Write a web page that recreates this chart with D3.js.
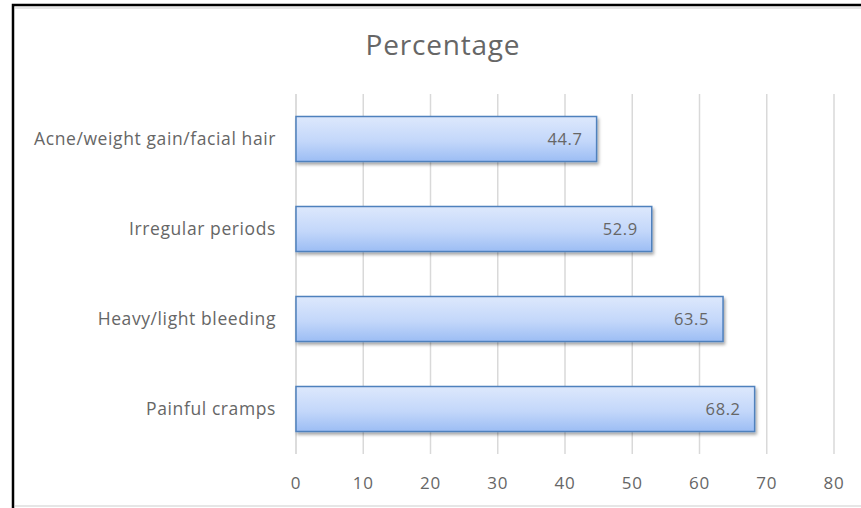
<!DOCTYPE html>
<html>
<head>
<meta charset="utf-8">
<script src="https://cdn.jsdelivr.net/npm/d3@7"></script>
<style>
  html, body { margin: 0; padding: 0; background: #fff; }
  svg { display: block; }
  text { font-family: "Open Sans", "Liberation Sans", sans-serif; fill: #666666; }
</style>
</head>
<body>
<svg id="chart" width="861" height="508"></svg>
<script>
const categories = ["Acne/weight gain/facial hair", "Irregular periods", "Heavy/light bleeding", "Painful cramps"];
const values = [44.7, 52.9, 63.5, 68.2];
const tickValues = [0, 10, 20, 30, 40, 50, 60, 70, 80];
const chartTitle = "Percentage";

const svg = d3.select("#chart");
const W = 861, H = 508;

// outer frame
svg.append("rect").attr("x", 13).attr("y", 5).attr("width", W + 10).attr("height", H + 10)
  .attr("fill", "#fff").attr("stroke", "#000").attr("stroke-width", 2.5);
svg.append("line").attr("x1", 15).attr("x2", W).attr("y1", 8).attr("y2", 8)
  .attr("stroke", "#e6e6e6").attr("stroke-width", 2);
svg.append("line").attr("x1", 15).attr("x2", W).attr("y1", 506).attr("y2", 506)
  .attr("stroke", "#e6e6e6").attr("stroke-width", 2);

const plot = { left: 296, right: 834, top: 94, bottom: 454 };

const x = d3.scaleLinear().domain([0, 80]).range([plot.left, plot.right]);
const y = d3.scaleBand().domain(categories).range([plot.top, plot.bottom]).paddingInner(0.5).paddingOuter(0.25);

const defs = svg.append("defs");
const grad = defs.append("linearGradient").attr("id", "barFill")
  .attr("x1", 0).attr("y1", 0).attr("x2", 0).attr("y2", 1);
grad.append("stop").attr("offset", "0%").attr("stop-color", "#dde8fc");
grad.append("stop").attr("offset", "55%").attr("stop-color", "#c3d7fa");
grad.append("stop").attr("offset", "100%").attr("stop-color", "#9cbdf4");

const shadow = defs.append("filter").attr("id", "barShadow")
  .attr("x", "-5%").attr("y", "-20%").attr("width", "115%").attr("height", "160%");
shadow.append("feDropShadow").attr("dx", 1.5).attr("dy", 2.5).attr("stdDeviation", 1.5)
  .attr("flood-color", "#000").attr("flood-opacity", 0.35);

// vertical gridlines
svg.append("g").selectAll("line").data(tickValues.slice(1)).join("line")
  .attr("x1", d => x(d)).attr("x2", d => x(d))
  .attr("y1", plot.top).attr("y2", plot.bottom)
  .attr("stroke", "#d9d9d9").attr("stroke-width", 1.5);

// value axis labels
svg.append("g").selectAll("text").data(tickValues).join("text")
  .attr("x", d => x(d)).attr("y", 489)
  .attr("text-anchor", "middle").attr("font-size", 17).attr("letter-spacing", 0.8)
  .text(d => d);

// category axis line
svg.append("line").attr("x1", x(0)).attr("x2", x(0))
  .attr("y1", plot.top).attr("y2", plot.bottom)
  .attr("stroke", "#d0d0d0").attr("stroke-width", 1.5);

// bars
svg.append("g").selectAll("rect").data(categories).join("rect")
  .attr("x", x(0))
  .attr("y", d => y(d))
  .attr("width", (d, i) => x(values[i]) - x(0))
  .attr("height", y.bandwidth())
  .attr("fill", "url(#barFill)")
  .attr("stroke", "#4f81bd").attr("stroke-width", 1.5)
  .attr("filter", "url(#barShadow)");

// value labels inside bar ends
svg.append("g").selectAll("text").data(categories).join("text")
  .attr("x", (d, i) => x(values[i]) - 14)
  .attr("y", d => y(d) + y.bandwidth() / 2 + 6)
  .attr("text-anchor", "end").attr("font-size", 16.5).attr("letter-spacing", 0.6)
  .text((d, i) => values[i].toFixed(1));

// category labels
svg.append("g").selectAll("text").data(categories).join("text")
  .attr("x", 276)
  .attr("y", d => y(d) + y.bandwidth() / 2 + 6)
  .attr("text-anchor", "end").attr("font-size", 17.5).attr("letter-spacing", 0.6)
  .text(d => d);

// title
svg.append("text").attr("x", 443).attr("y", 55)
  .attr("text-anchor", "middle").attr("font-size", 28).attr("letter-spacing", 0.8)
  .text(chartTitle);
</script>
</body>
</html>
